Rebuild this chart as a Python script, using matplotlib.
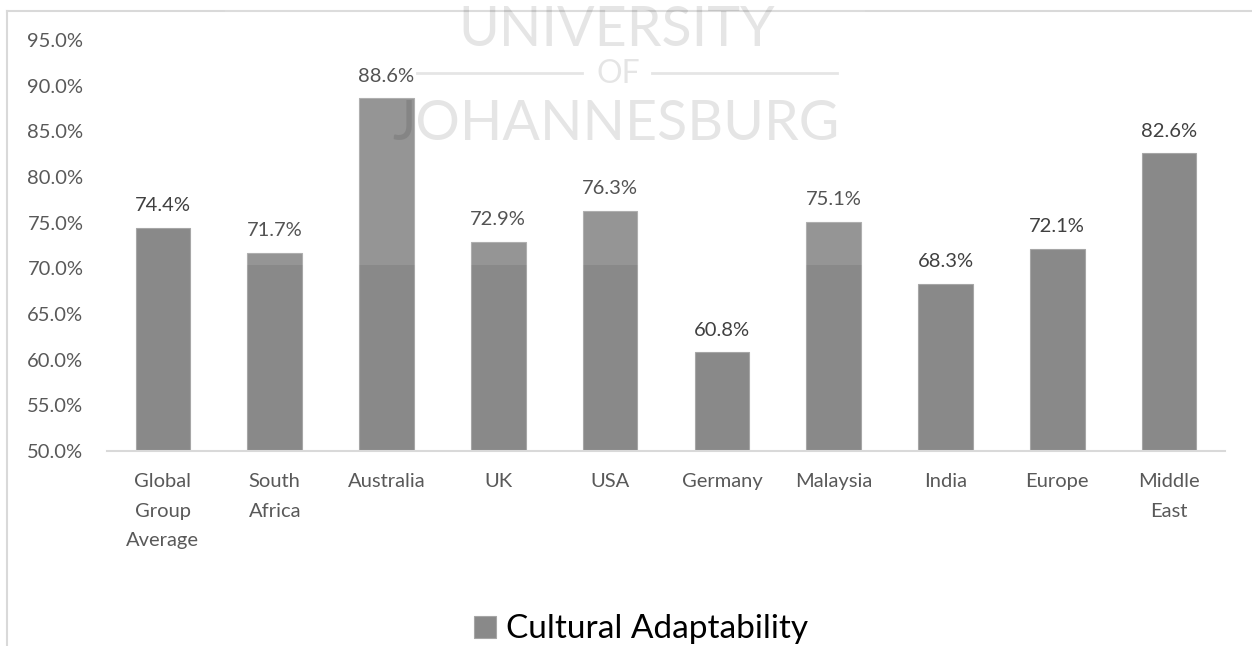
import matplotlib
matplotlib.use("Agg")
import matplotlib.pyplot as plt
from matplotlib.patches import Rectangle
from matplotlib.lines import Line2D
from matplotlib.ticker import FuncFormatter, MultipleLocator

regions = ["Global\nGroup\nAverage", "South\nAfrica", "Australia", "UK", "USA",
           "Germany", "Malaysia", "India", "Europe", "Middle\nEast"]
adaptability = [74.4, 71.7, 88.6, 72.9, 76.3, 60.8, 75.1, 68.3, 72.1, 82.6]
series_name = "Cultural Adaptability"

FONT = "Lato"
W, H = 1252, 646
fig = plt.figure(figsize=(W / 100, H / 100), dpi=100)
fig.patch.set_facecolor("white")

ax = fig.add_axes([107 / W, (H - 451) / H, (1225 - 107) / W, (451 - 40) / H])
x = range(len(regions))
bars = ax.bar(x, adaptability, width=0.49, bottom=0, color="#898989",
              edgecolor="#a6a6a6", linewidth=0.8, label=series_name, zorder=2)

ax.set_ylim(50, 95)
ax.set_xlim(-0.5, len(regions) - 0.5)
ax.yaxis.set_major_locator(MultipleLocator(5))
ax.yaxis.set_major_formatter(FuncFormatter(lambda v, _: f"{v:.1f}%"))
ax.set_xticks(list(x))
ax.set_xticklabels(regions, linespacing=1.9)

for side in ("top", "right", "left"):
    ax.spines[side].set_visible(False)
ax.spines["bottom"].set_color("#d9d9d9")
ax.spines["bottom"].set_linewidth(1.5)
ax.tick_params(axis="both", length=0, labelsize=14.5, labelcolor="#595959")
ax.tick_params(axis="y", pad=17)
ax.tick_params(axis="x", pad=16)
for lab in ax.get_xticklabels() + ax.get_yticklabels():
    lab.set_fontfamily(FONT)

for rect, val in zip(bars, adaptability):
    ax.annotate(f"{val:.1f}%", (rect.get_x() + rect.get_width() / 2, val),
                xytext=(0, 12), textcoords="offset points", ha="center",
                va="baseline", fontsize=14.5, color="#404040", family=FONT)

leg = fig.legend(handles=[bars], labels=[series_name], loc="lower center",
                 bbox_to_anchor=(641 / W, -15 / H), frameon=False,
                 borderpad=0, handlelength=0.64, handleheight=0.64,
                 handletextpad=0.3, prop={"family": FONT, "size": 24})
for t in leg.get_texts():
    t.set_color("black")

# chart frame
fig.add_artist(Line2D([7 / W, 7 / W], [0, (H - 11) / H], color="#d9d9d9", lw=1.5))
fig.add_artist(Line2D([7 / W, 1], [(H - 11) / H, (H - 11) / H], color="#d9d9d9", lw=1.5))

# university watermark
veil = Rectangle((225 / W, (H - 265) / H), (865 - 225) / W, 265 / H,
                 transform=fig.transFigure, facecolor="white", alpha=0.1,
                 edgecolor="none", zorder=5)
fig.add_artist(veil)
wm = dict(color="black", alpha=0.1, ha="center", va="center", family=FONT,
          zorder=6)
fig.text(617 / W, (H - 30) / H, "UNIVERSITY", fontsize=40, **wm)
fig.text(618 / W, (H - 74) / H, "OF", fontsize=23, **wm)
fig.text(616 / W, (H - 125) / H, "JOHANNESBURG", fontsize=40, **wm)
for x0, x1 in ((417, 582), (652, 837)):
    fig.add_artist(Line2D([x0 / W, x1 / W], [(H - 73) / H] * 2, color="black",
                          alpha=0.1, lw=2.0, zorder=6))

fig.savefig("out.png", dpi=100)
